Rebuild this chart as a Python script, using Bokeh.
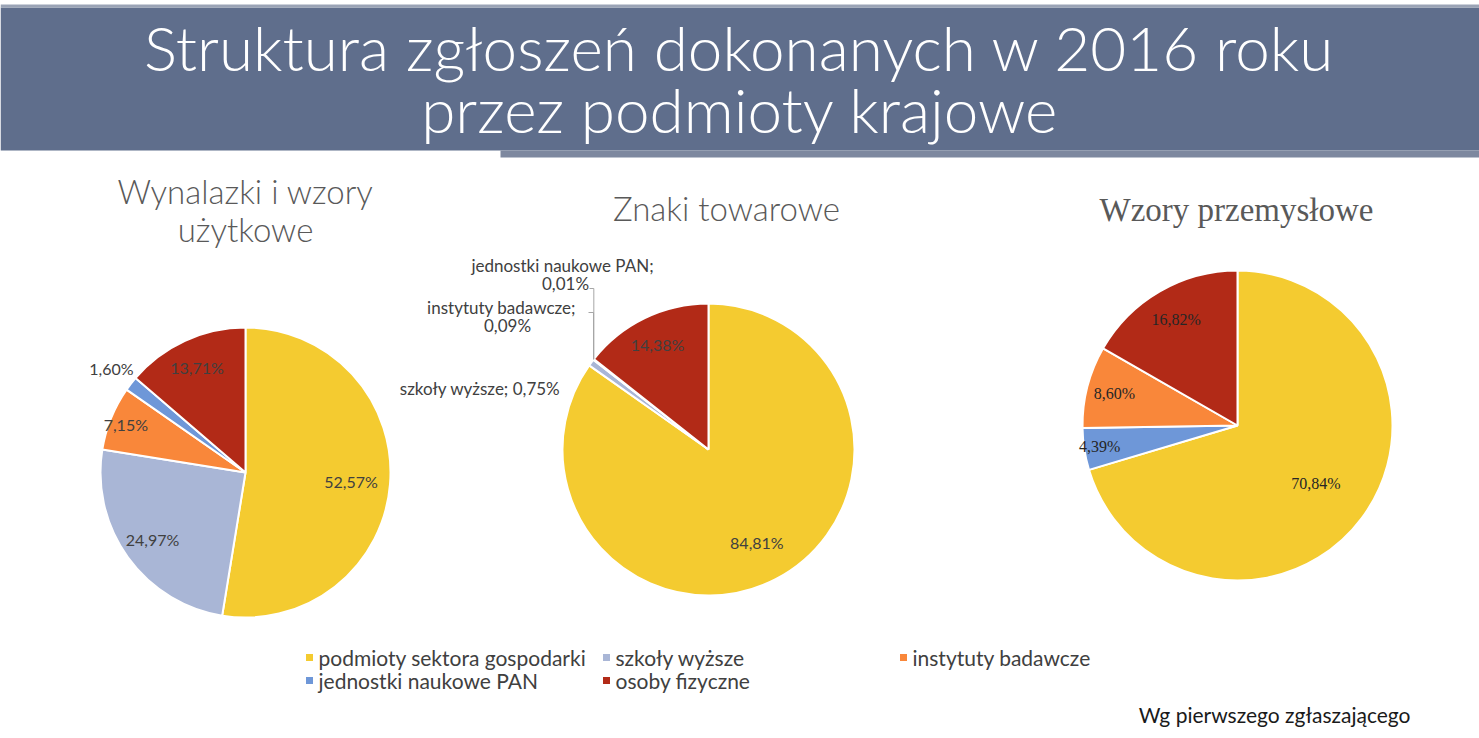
import math
from bokeh.plotting import figure
from bokeh.models import Range1d, ColumnDataSource
from bokeh.core.properties import value
from bokeh.embed import file_html
from bokeh.resources import INLINE

# ---------------- data ----------------
title_lines = ["Struktura zgłoszeń dokonanych w 2016 roku", "przez podmioty krajowe"]
categories = ["podmioty sektora gospodarki", "szkoły wyższe", "instytuty badawcze",
              "jednostki naukowe PAN", "osoby fizyczne"]
wynalazki = [52.57, 24.97, 7.15, 1.60, 13.71]
znaki = [84.81, 0.75, 0.09, 0.01, 14.38]
wzory = [70.84, 4.39, 8.60, 0.0, 16.82]
chart_titles = [["Wynalazki i wzory", "użytkowe"], ["Znaki towarowe"], ["Wzory przemysłowe"]]
footnote = "Wg pierwszego zgłaszającego"

# ---------------- styles ----------------
W, H = 1479, 738
palette = ["#F4CB30", "#A9B6D6", "#F9873A", "#6E97D8", "#B22A17"]
palette3 = ["#F4CB30", "#6E97D8", "#F9873A", "#6E97D8", "#B22A17"]
SANS = "Lato"
THIN = "Lato Light"
SERIF = "Liberation Serif"


def Y(py):
    return H - py


def fmt(v):
    return ("%.2f" % v).replace(".", ",") + "%"


p = figure(width=W, height=H, x_range=Range1d(0, W), y_range=Range1d(0, H),
           output_backend="svg", toolbar_location=None, min_border=0,
           x_axis_location=None, y_axis_location=None)
p.grid.visible = False
p.outline_line_color = None
p.background_fill_color = "white"
p.border_fill_color = "white"

# banner
p.quad(left=0, right=W, bottom=Y(150), top=Y(7), fill_color="#5f6e8c", line_color=None)
p.quad(left=0, right=W, bottom=Y(7), top=Y(4), fill_color="#9aa3b5", line_color=None)
p.quad(left=500, right=W, bottom=Y(157), top=Y(150), fill_color="#7d889f", line_color=None)
p.text(x=[W / 2, W / 2], y=[Y(46), Y(108)], text=title_lines, text_align="center",
       text_baseline="middle", text_color="white", text_font=value(THIN),
       text_font_size="62px")


def pie(values, cx, cy, r, colors, fracs, font, font_size, label_color, show):
    total = sum(values)
    starts, ends, mids, cols, vals = [], [], [], [], []
    cum = 0.0
    for i, v in enumerate(values):
        a0 = cum / total
        cum += v
        a1 = cum / total
        mids.append((a0 + a1) / 2)
        if v <= 0:
            continue
        starts.append(math.pi / 2 - a1 * 2 * math.pi)
        ends.append(math.pi / 2 - a0 * 2 * math.pi)
        cols.append(colors[i])
        vals.append(v)
    src = ColumnDataSource(dict(start=starts, end=ends, color=cols, val=vals))
    p.wedge(x=cx, y=Y(cy), radius=r, radius_units="screen", start_angle="start",
            end_angle="end", fill_color="color", line_color="white", line_width=2, source=src)
    lx, ly, lt = [], [], []
    for i, v in enumerate(values):
        if not show[i] or v <= 0:
            continue
        ang = mids[i] * 2 * math.pi
        lx.append(cx + fracs[i] * r * math.sin(ang))
        ly.append(Y(cy - fracs[i] * r * math.cos(ang)))
        lt.append(fmt(v))
    p.text(x=lx, y=ly, text=lt, text_align="center", text_baseline="middle",
           text_color=label_color, text_font=value(font), text_font_size=font_size)
    return mids


# chart titles
p.text(x=[245, 245], y=[Y(190), Y(228)], text=chart_titles[0], text_align="center",
       text_baseline="middle", text_color="#595959", text_font=value(THIN), text_font_size="33px")
p.text(x=[726], y=[Y(207)], text=chart_titles[1], text_align="center",
       text_baseline="middle", text_color="#595959", text_font=value(THIN), text_font_size="33px")
p.text(x=[1236], y=[Y(209)], text=chart_titles[2], text_align="center",
       text_baseline="middle", text_color="#595959", text_font=value(SERIF), text_font_size="33px")

# pie 1
pie(wynalazki, 245, 472, 145, palette, [0.73, 0.79, 0.89, 1.17, 0.8],
    SANS, "16px", "#404040", [True] * 5)

# pie 2
cx2, cy2, r2 = 708, 449, 146
mids2 = pie(znaki, cx2, cy2, r2, palette, [0.72, 1, 1, 1, 0.8],
            SANS, "16px", "#404040", [True, False, False, False, True])
# outside labels of pie 2
p.text(x=[560], y=[Y(388)], text=[categories[1] + "; " + fmt(znaki[1])], text_align="right",
       text_baseline="middle", text_color="#404040", text_font=value(SANS), text_font_size="17px")
p.text(x=[501, 507], y=[Y(307), Y(325)], text=[categories[2] + ";", fmt(znaki[2])],
       text_align="center", text_baseline="middle", text_color="#404040",
       text_font=value(SANS), text_font_size="17px")
p.text(x=[562, 565], y=[Y(265), Y(283)], text=[categories[3] + ";", fmt(znaki[3])],
       text_align="center", text_baseline="middle", text_color="#404040",
       text_font=value(SANS), text_font_size="17px")
for i, (sx, sy) in zip([3, 2], [(589, 288), (588, 312)]):
    ang = mids2[i] * 2 * math.pi
    ex = cx2 + r2 * math.sin(ang)
    ey = cy2 - r2 * math.cos(ang)
    p.line(x=[sx, ex, ex], y=[Y(sy), Y(sy), Y(ey)], line_color="#a6a6a6", line_width=1)

# pie 3
pie(wzory, 1237, 425, 155, palette3, [0.63, 0.9, 0.82, 1, 0.79],
    SERIF, "16px", "#262626", [True, True, True, False, True])

# legend
leg_x = [309, 606, 903, 309, 606]
leg_y = [657, 657, 657, 680, 680]
p.rect(x=leg_x, y=[Y(v) for v in leg_y], width=7, height=7, width_units="screen",
       height_units="screen", fill_color=palette, line_color=None)
p.text(x=[v + 9 for v in leg_x], y=[Y(v) for v in leg_y], text=categories, text_align="left",
       text_baseline="middle", text_color="#404040", text_font=value(SANS), text_font_size="21px")

# footnote
p.text(x=[1410], y=[Y(714)], text=[footnote], text_align="right", text_baseline="middle",
       text_color="#1a1a1a", text_font=value(SANS), text_font_size="21px")

open("out.html", "w").write(file_html(p, INLINE))
